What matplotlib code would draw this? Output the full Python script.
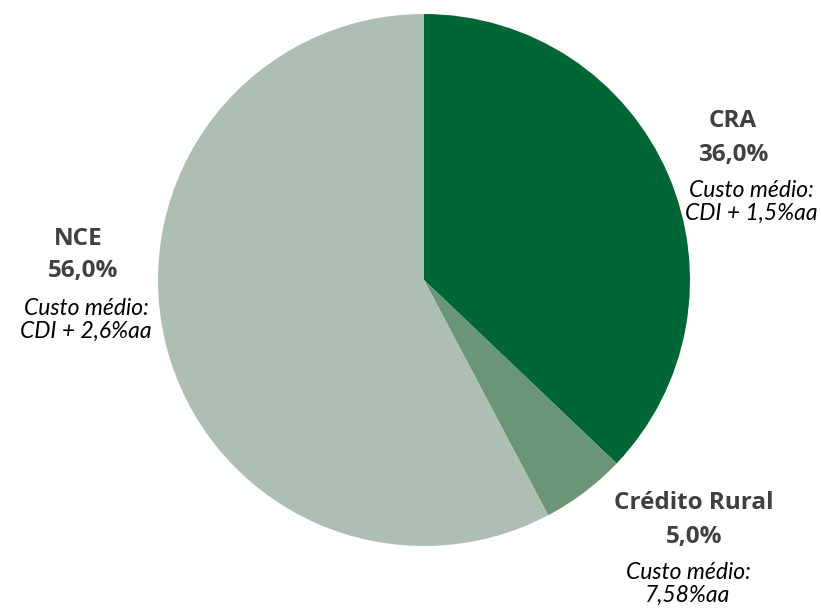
import matplotlib.pyplot as plt

# dados
categorias = ['CRA', 'Crédito Rural', 'NCE']
valores = [36.0, 5.0, 56.0]
custos = ['Custo médio:\nCDI + 1,5%aa', 'Custo médio:\n7,58%aa', 'Custo médio:\nCDI + 2,6%aa']
cores = ['#006633', '#6A9677', '#ADBFB3']

W, H = 821, 610
fig = plt.figure(figsize=(W / 100, H / 100), dpi=100)
ax = fig.add_axes([0, 0, 1, 1])

# pie drawn in pixel coords (y down -> counterclock=True gives clockwise on screen)
ax.pie(valores, colors=cores, startangle=-90, counterclock=True,
       center=(424, 280), radius=266, frame=True,
       wedgeprops=dict(linewidth=0))
ax.set_xlim(0, W)
ax.set_ylim(H, 0)
ax.axis('off')

fonte_b = ['Open Sans', 'DejaVu Sans']
fonte_i = ['Lato', 'DejaVu Sans']
# posições dos rótulos (px): nome, percentual, custo
pos = [
    ((733, 121), (733, 155), (751, 202)),
    ((694, 503), (694, 537), (688, 584)),
    ((78, 239), (83, 271), (86, 320)),
]
for nome, v, custo, (p1, p2, p3) in zip(categorias, valores, custos, pos):
    ax.text(*p1, nome, ha='center', va='center', fontsize=17.5, fontweight='bold',
            color='#404040', family=fonte_b)
    ax.text(*p2, f'{v:.1f}%'.replace('.', ','), ha='center', va='center', fontsize=17.5,
            fontweight='bold', color='#404040', family=fonte_b)
    ax.text(*p3, custo, ha='center', va='center', fontsize=16.5, style='italic',
            color='black', family=fonte_i, linespacing=1.15)

fig.savefig('out.png', dpi=100)
